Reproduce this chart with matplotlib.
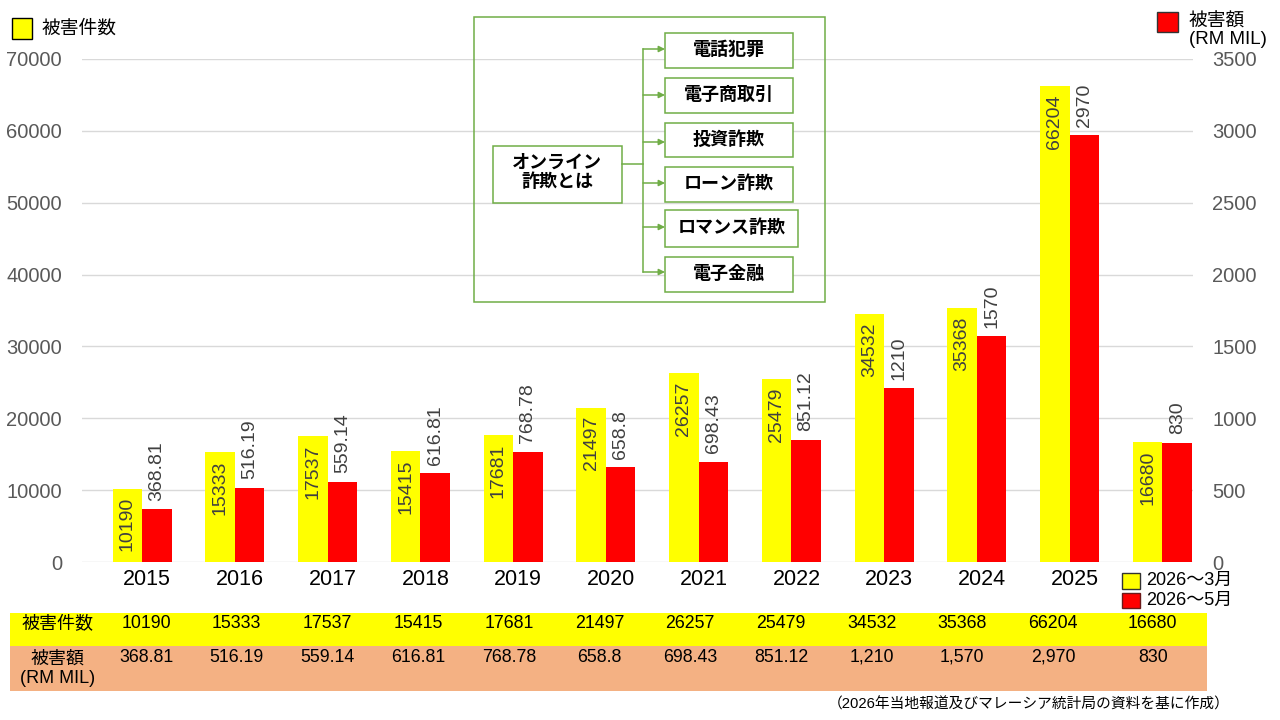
import matplotlib
matplotlib.use('Agg')
import matplotlib.pyplot as plt
from matplotlib.patches import Rectangle
import numpy as np

plt.rcParams['font.family'] = ['Liberation Sans', 'Noto Sans CJK JP', 'DejaVu Sans']

# ---------------- data ----------------
years = ['2015', '2016', '2017', '2018', '2019', '2020', '2021', '2022', '2023', '2024', '2025', '2026']
cases = [10190, 15333, 17537, 15415, 17681, 21497, 26257, 25479, 34532, 35368, 66204, 16680]
amounts = [368.81, 516.19, 559.14, 616.81, 768.78, 658.8, 698.43, 851.12, 1210, 1570, 2970, 830]
amount_bar_labels = ['368.81', '516.19', '559.14', '616.81', '768.78', '658.8', '698.43',
                     '851.12', '1210', '1570', '2970', '830']
amount_table_labels = ['368.81', '516.19', '559.14', '616.81', '768.78', '658.8', '698.43',
                       '851.12', '1,210', '1,570', '2,970', '830']
left_ticks = [0, 10000, 20000, 30000, 40000, 50000, 60000, 70000]
right_ticks = [0, 500, 1000, 1500, 2000, 2500, 3000, 3500]
diagram_root = 'オンライン\n詐欺とは'
diagram_items = ['電話犯罪', '電子商取引', '投資詐欺', 'ローン詐欺', 'ロマンス詐欺', '電子金融']
legend_cases = '被害件数'
legend_amount = '被害額\n(RM MIL)'
legend_2026 = ['2026～3月', '2026～5月']
row_labels = ['被害件数', '被害額\n(RM MIL)']
footnote = '（2026年当地報道及びマレーシア統計局の資料を基に作成）'

YELLOW = '#FFFF00'
RED = '#FF0000'
SALMON = '#F4B183'
GREEN = '#70AD47'
GRID = '#D9D9D9'
TICK = '#595959'

W, H = 1280, 720
fig = plt.figure(figsize=(12.8, 7.2), dpi=100)


def fx(px):
    return px / W


def fy(py):
    return 1 - py / H


ax = fig.add_axes([fx(82), fy(562), fx(1193) - fx(82), fy(59) - fy(562)])
ax2 = ax.twinx()

x = np.arange(len(years))
bw = 0.318
ax.bar(x - bw / 2, cases, width=bw, color=YELLOW, zorder=3)
ax2.bar(x + bw / 2, amounts, width=bw, color=RED, zorder=3)

ax.set_xlim(-0.647, 11.33)
ax.set_ylim(0, 70000)
ax2.set_ylim(0, 3500)
ax.set_yticks(left_ticks)
ax2.set_yticks(right_ticks)
ax.yaxis.grid(True, color=GRID, lw=1)
ax.set_axisbelow(True)
for a in (ax, ax2):
    for s in a.spines.values():
        s.set_visible(False)
ax.tick_params(axis='y', length=0, pad=14.4, labelsize=14.5, labelcolor=TICK)
ax2.tick_params(axis='y', length=0, pad=13.7, labelsize=14.5, labelcolor=TICK)
ax.set_xticks(x[:11] + 0.055)
ax.set_xticklabels(years[:11])
ax.tick_params(axis='x', length=0, pad=5, labelsize=15.5, labelcolor='#000000')

for i in range(len(years)):
    ax.annotate(str(cases[i]), xy=(x[i] - bw / 2, cases[i]), xytext=(0, -6),
                textcoords='offset points', rotation=90, ha='center', va='top',
                fontsize=14, color='#404040', zorder=5)
    ax2.annotate(amount_bar_labels[i], xy=(x[i] + bw / 2, amounts[i]), xytext=(0, 6),
                 textcoords='offset points', rotation=90, ha='center', va='bottom',
                 fontsize=14, color='#404040', zorder=5)

# ---------------- overlay in pixel coords ----------------
ov = fig.add_axes([0, 0, 1, 1], zorder=10)
ov.set_xlim(0, W)
ov.set_ylim(H, 0)
ov.axis('off')
ov.patch.set_alpha(0)

# top legends
ov.add_patch(Rectangle((12, 18), 20, 21, facecolor=YELLOW, edgecolor='#000000', lw=1))
ov.text(42, 29, legend_cases, fontsize=13.5, va='center', ha='left', color='#000000')
ov.add_patch(Rectangle((1157, 12), 21, 20, facecolor=RED, edgecolor='#333333', lw=1))
ov.text(1189, 31, legend_amount, fontsize=13.5, va='center', ha='left', color='#000000',
        linespacing=1.05)

# 2026 legend
ov.add_patch(Rectangle((1122, 573), 18, 16, facecolor=YELLOW, edgecolor='#333333', lw=1))
ov.add_patch(Rectangle((1122, 593), 18, 15, facecolor=RED, edgecolor='#6b1a1a', lw=1))
ov.text(1146, 580, legend_2026[0], fontsize=13, va='center', ha='left', color='#000000')
ov.text(1146, 600, legend_2026[1], fontsize=13, va='center', ha='left', color='#000000')

# diagram
ov.add_patch(Rectangle((474, 17), 351, 285, facecolor='none', edgecolor=GREEN, lw=1.1))
ov.add_patch(Rectangle((493, 146), 129, 57, facecolor='white', edgecolor=GREEN, lw=1.1))
ov.text(557, 173, diagram_root, fontsize=13, fontweight='bold', ha='center', va='center',
        linespacing=1.15, color='#000000')
item_tops = [33, 78, 123, 167, 210, 257]
item_heights = [35, 35, 34, 35, 37, 35]
item_widths = [128, 128, 128, 128, 133, 128]
arrow_ys = [49, 95, 142, 183, 227, 272]
ov.plot([622, 643], [164, 164], color=GREEN, lw=1.1)
ov.plot([643, 643], [arrow_ys[0], arrow_ys[-1]], color=GREEN, lw=1.1)
for lbl, t, h, w, ay in zip(diagram_items, item_tops, item_heights, item_widths, arrow_ys):
    ov.add_patch(Rectangle((665, t), w, h, facecolor='white', edgecolor=GREEN, lw=1.1))
    ov.text(665 + w / 2, t + h / 2, lbl, fontsize=13, fontweight='bold', ha='center',
            va='center', color='#000000')
    ov.annotate('', xy=(665, ay), xytext=(643, ay),
                arrowprops=dict(arrowstyle='-|>', color=GREEN, lw=1.1, mutation_scale=9,
                                shrinkA=0, shrinkB=0))

# table
tx0, tx1 = 10, 1207
ov.add_patch(Rectangle((tx0, 612.7), tx1 - tx0, 33, facecolor=YELLOW, edgecolor='none'))
ov.add_patch(Rectangle((tx0, 645.7), tx1 - tx0, 45, facecolor=SALMON, edgecolor='none'))
col_w = 90.7
edges = [tx0 + col_w * k for k in range(13)] + [tx1]
centers = [(edges[k] + edges[k + 1]) / 2 for k in range(13)]
ov.text(centers[0] + 2, 625, row_labels[0], fontsize=13, ha='center', va='center', color='#000000')
ov.text(centers[0] + 2, 669, row_labels[1], fontsize=13, ha='center', va='center',
        color='#000000', linespacing=1.15)
for i in range(len(years)):
    ov.text(centers[i + 1], 624, str(cases[i]), fontsize=12.8, ha='center', va='center',
            color='#000000')
    ov.text(centers[i + 1], 657, amount_table_labels[i], fontsize=12.8, ha='center',
            va='center', color='#000000')

ov.text(1230, 704, footnote, fontsize=10.6, ha='right', va='center', color='#000000')

fig.savefig('out.png', dpi=100)
